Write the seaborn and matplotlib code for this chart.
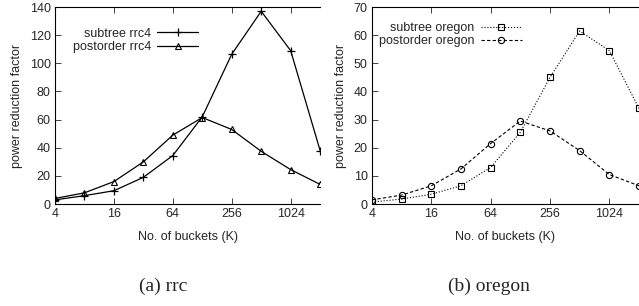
import matplotlib
matplotlib.use("Agg")
import matplotlib.pyplot as plt
import seaborn as sns
import pandas as pd
from matplotlib.ticker import FixedLocator, FixedFormatter, NullLocator

sns.set_style("ticks")
plt.rcParams['font.family'] = ['Liberation Sans', 'DejaVu Sans']

buckets = [4, 8, 16, 32, 64, 128, 256, 512, 1024, 2048]
subtree_rrc4 = [3, 6, 9.5, 19, 34.5, 62, 106.5, 137, 109, 38]
postorder_rrc4 = [4, 8, 16, 30, 49, 61.5, 53, 37.5, 24.5, 14]
subtree_oregon = [0.7, 1.8, 3.5, 6.5, 13, 25.5, 45, 61.5, 54.5, 34]
postorder_oregon = [1.5, 3.2, 6.5, 12.5, 21.5, 29.5, 26, 19, 10.5, 6.5]

xticks = [4, 16, 64, 256, 1024]
xticklabels = ['4', '16', '64', '256', '1024']

fig = plt.figure(figsize=(6.39, 3.06), dpi=100)
ax1 = fig.add_axes([0.086, 0.333, 0.415, 0.644])
ax2 = fig.add_axes([0.582, 0.333, 0.418, 0.644])


def style_axis(ax, ymax, ystep):
    ax.set_xscale('log', base=2)
    ax.set_xlim(4, 2048)
    ax.set_ylim(0, ymax)
    ax.xaxis.set_major_locator(FixedLocator(xticks))
    ax.xaxis.set_major_formatter(FixedFormatter(xticklabels))
    ax.xaxis.set_minor_locator(NullLocator())
    ax.set_yticks(range(0, ymax + 1, ystep))
    ax.tick_params(direction='in', length=4, width=0.6, labelsize=9,
                   top=True, right=False, pad=3)
    for s in ['left', 'top', 'bottom']:
        ax.spines[s].set_linewidth(0.8)
        ax.spines[s].set_color('black')
    ax.spines['right'].set_visible(False)
    ax.set_xlabel('No. of buckets (K)', fontsize=9, labelpad=8)
    ax.set_ylabel('power reduction factor', fontsize=9, labelpad=5)


df1 = pd.DataFrame({'K': buckets, 'subtree': subtree_rrc4, 'postorder': postorder_rrc4})
sns.lineplot(data=df1, x='K', y='subtree', ax=ax1, color='black', lw=0.9,
             marker='+', markersize=6, markeredgecolor='black', markeredgewidth=0.9,
             label='subtree rrc4')
sns.lineplot(data=df1, x='K', y='postorder', ax=ax1, color='black', lw=0.9,
             marker='^', markersize=5, markerfacecolor='none', markeredgecolor='black',
             markeredgewidth=0.8, label='postorder rrc4')
style_axis(ax1, 140, 20)

df2 = pd.DataFrame({'K': buckets, 'subtree': subtree_oregon, 'postorder': postorder_oregon})
sns.lineplot(data=df2, x='K', y='subtree', ax=ax2, color='black', lw=0.8,
             linestyle=':', marker='s', markersize=5, markerfacecolor='none',
             markeredgecolor='black', markeredgewidth=0.8, label='subtree oregon')
sns.lineplot(data=df2, x='K', y='postorder', ax=ax2, color='black', lw=0.8,
             linestyle=(0, (3, 2)), marker='o', markersize=4.5, markerfacecolor='none',
             markeredgecolor='black', markeredgewidth=0.8, label='postorder oregon')
style_axis(ax2, 70, 10)

ax1.legend(loc='upper right', bbox_to_anchor=(0.56, 0.92), frameon=False,
           markerfirst=False, fontsize=9, handlelength=3.3,
           labelspacing=0.1, borderaxespad=0, handletextpad=0.5)
ax2.legend(loc='upper right', bbox_to_anchor=(0.58, 0.95), frameon=False,
           markerfirst=False, fontsize=9, handlelength=3.3,
           labelspacing=0.1, borderaxespad=0, handletextpad=0.5)

fig.text(0.255, 0.05, '(a) rrc', ha='center', fontsize=14, family='Liberation Serif')
fig.text(0.765, 0.05, '(b) oregon', ha='center', fontsize=14, family='Liberation Serif')

fig.savefig('out.png', dpi=100)
